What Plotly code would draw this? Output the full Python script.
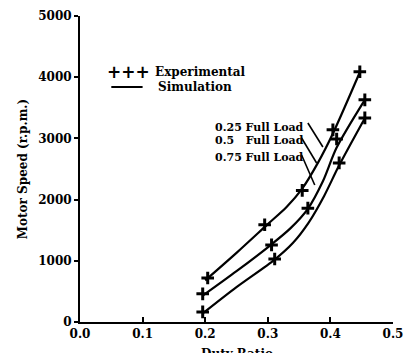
import plotly.graph_objects as go

# Experimental points (duty ratio, motor speed r.p.m.)
exp_x_025 = [0.204, 0.295, 0.355, 0.404, 0.447]
exp_y_025 = [720, 1590, 2150, 3140, 4090]
exp_x_05 = [0.196, 0.306, 0.364, 0.410, 0.455]
exp_y_05 = [460, 1260, 1860, 2990, 3630]
exp_x_075 = [0.196, 0.311, 0.414, 0.455]
exp_y_075 = [165, 1030, 2600, 3335]

# Simulation curves
sim_x_025 = [0.200, 0.250, 0.300, 0.330, 0.355, 0.380, 0.404, 0.447]
sim_y_025 = [680, 1130, 1600, 1880, 2180, 2600, 3080, 4080]
sim_x_05 = [0.196, 0.250, 0.306, 0.336, 0.364, 0.388, 0.410, 0.455]
sim_y_05 = [430, 830, 1270, 1530, 1850, 2300, 2850, 3630]
sim_x_075 = [0.196, 0.250, 0.311, 0.340, 0.365, 0.390, 0.414, 0.455]
sim_y_075 = [140, 570, 1020, 1290, 1620, 2060, 2560, 3330]

x_ticks = [0.0, 0.1, 0.2, 0.3, 0.4, 0.5]
y_ticks = [0, 1000, 2000, 3000, 4000, 5000]
load_labels = ["0.25 Full Load", "0.5\u00a0\u00a0\u00a0Full Load", "0.75 Full Load"]

FONT = "DejaVu Serif"
fig = go.Figure()

for sx, sy in [(sim_x_025, sim_y_025), (sim_x_05, sim_y_05), (sim_x_075, sim_y_075)]:
    fig.add_trace(go.Scatter(x=sx, y=sy, mode="lines", line=dict(color="black", width=2.2, shape="spline", smoothing=0.8),
                             showlegend=False, hoverinfo="skip"))
for ex, ey in [(exp_x_025, exp_y_025), (exp_x_05, exp_y_05), (exp_x_075, exp_y_075)]:
    fig.add_trace(go.Scatter(x=ex, y=ey, mode="markers",
                             marker=dict(symbol="cross-thin", size=9, line=dict(color="black", width=3)),
                             showlegend=False))

# leader lines from labels to curves
leaders = [((0.364, 3252), (0.388, 2859)), ((0.354, 3007), (0.378, 2598)), ((0.354, 2729), (0.375, 2239))]
for (x0, y0), (x1, y1) in leaders:
    fig.add_shape(type="line", x0=x0, y0=y0, x1=x1, y1=y1, xref="x", yref="y", line=dict(color="black", width=1.6))

for lab, yy in zip(load_labels, [3186, 2958, 2680]):
    fig.add_annotation(x=0.361, y=yy, xref="x", yref="y", text=lab, showarrow=False, xanchor="right",
                       font=dict(family=FONT, size=11, color="black", weight="bold"))

# legend (manual)
fig.add_annotation(x=0.077, y=4085, xref="x", yref="y", text="+++", showarrow=False,
                   font=dict(family="DejaVu Sans", size=17, color="black", weight="bold"))
fig.add_annotation(x=0.116, y=4085, xref="x", yref="y", text="Experimental", showarrow=False, xanchor="left",
                   font=dict(family=FONT, size=12, color="black", weight="bold"))
fig.add_shape(type="line", x0=0.05, x1=0.1, y0=3840, y1=3840, xref="x", yref="y", line=dict(color="black", width=2))
fig.add_annotation(x=0.121, y=3840, xref="x", yref="y", text="Simulation", showarrow=False, xanchor="left",
                   font=dict(family=FONT, size=12, color="black", weight="bold"))

# x-axis title (partly cropped at the bottom, as in the reference)
fig.add_annotation(x=0.5, y=-0.075, xref="paper", yref="paper", text="Duty Ratio", showarrow=False,
                   xanchor="center", yanchor="top", font=dict(family=FONT, size=12, color="black", weight="bold"))

fig.update_layout(
    width=404, height=353, margin=dict(l=80, r=11, t=16, b=31),
    paper_bgcolor="white", plot_bgcolor="white", showlegend=False,
    font=dict(family=FONT, color="black", size=12, weight="bold"),
)
fig.update_xaxes(range=[0, 0.5], tickvals=x_ticks, ticktext=[f"{v:.1f}" for v in x_ticks],
                 showline=True, linecolor="black", linewidth=2, ticks="inside", ticklen=5, tickwidth=1.5,
                 tickcolor="black", showgrid=False, zeroline=False, automargin=False,
                 tickfont=dict(family=FONT, size=12, weight="bold"))
fig.update_yaxes(range=[0, 5000], tickvals=y_ticks, ticktext=[str(v) for v in y_ticks],
                 showline=True, linecolor="black", linewidth=2, ticks="outside", ticklen=4, tickwidth=1.5,
                 tickcolor="black", showgrid=False, zeroline=False, automargin=False,
                 tickfont=dict(family=FONT, size=12, weight="bold"),
                 title=dict(text="Motor Speed (r.p.m.)", font=dict(family=FONT, size=12, weight="bold"), standoff=8))

fig.write_html("out.html")
